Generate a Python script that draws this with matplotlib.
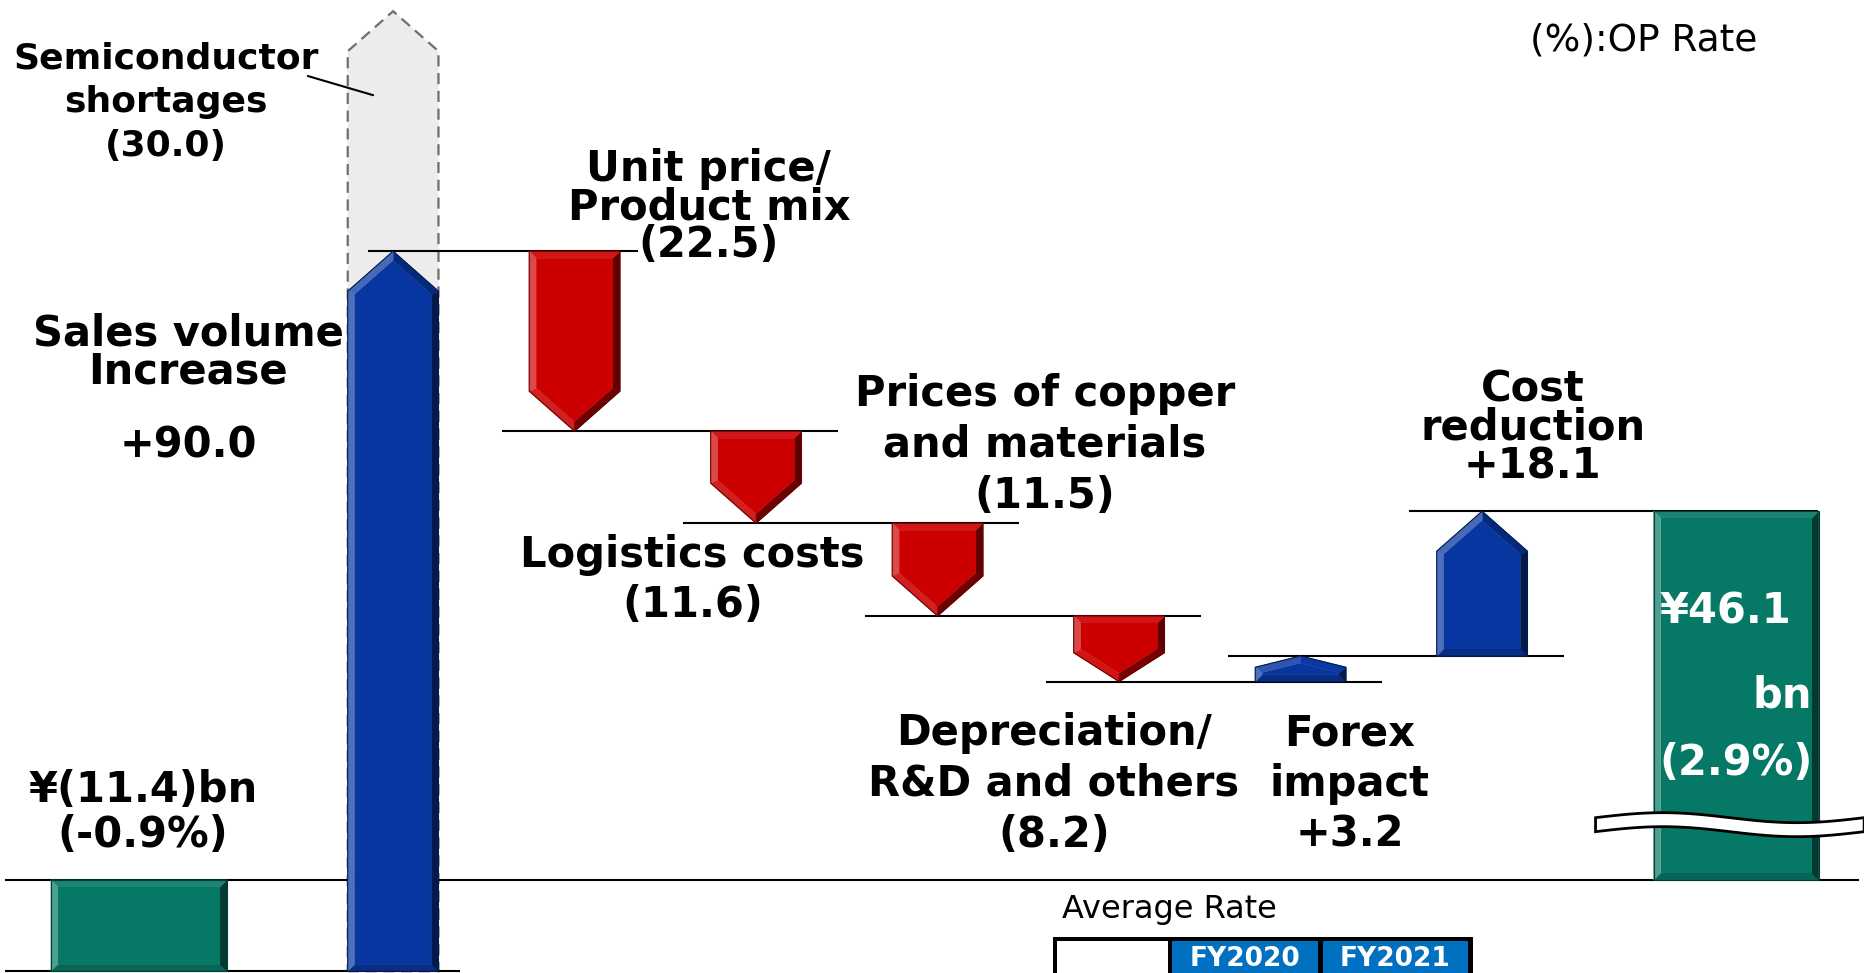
import matplotlib
matplotlib.use("Agg")
import matplotlib.pyplot as plt
import numpy as np
from matplotlib.patches import Polygon, Rectangle
from matplotlib.colors import to_rgb

# ---- data (bn yen) ----
start_value = -11.4
start_rate = -0.9
step_names = ["Sales volume\nIncrease", "Unit price/\nProduct mix",
              "Prices of copper\nand materials", "Logistics costs",
              "Depreciation/\nR&D and others", "Forex\nimpact",
              "Cost\nreduction"]
step_values = [90.0, -22.5, -11.5, -11.6, -8.2, 3.2, 18.1]
shortage_name = "Semiconductor\nshortages"
shortage_value = -30.0
end_value = 46.1
end_rate = 2.9
rate_headers = ["FY2020", "FY2021"]

# ---- layout ----
W, H = 1865, 973
SX, SY = 181.5, 8.0          # px per category step / px per bn yen
X0, Y0 = 139, 880            # pixel of first category centre / zero line
BLUE, RED, GREEN = "#0836a0", "#cc0000", "#067866"
HEAD = 5.0                   # arrow head length (bn yen)

label_dx = [-1.13, 0.74, 1.59, -1.35, -0.36, 0.27, 0.28]
label_y = [65.9, 84.1, 54.4, 37.5, 12.0, 12.0, 56.5]
label_ls = [0.88, 0.88, 1.27, 1.27, 1.27, 1.27, 0.88]
FONT = dict(fontsize=30, fontweight="bold", family="DejaVu Sans")


def fmt(v):
    return f"+{v:.1f}" if v > 0 else f"({-v:.1f})"


def mix(c, other, f):
    c = np.array(to_rgb(c))
    return tuple(c + (np.array(other) - c) * f)


def bevel(ax, pts, color, b=7, z=3):
    """Draw a convex polygon with a bevelled edge (like the slide shapes)."""
    P = np.array(pts, dtype=float) * [SX, SY]
    area = 0.5 * np.sum(P[:, 0] * np.roll(P[:, 1], -1)
                        - np.roll(P[:, 0], -1) * P[:, 1])
    if area < 0:
        P = P[::-1]
    n = len(P)
    lines = []
    for i in range(n):
        a, c = P[i], P[(i + 1) % n]
        d = (c - a) / np.linalg.norm(c - a)
        lines.append((a + np.array([-d[1], d[0]]) * b, d))
    Q = []
    for i in range(n):
        p1, d1 = lines[i - 1]
        p2, d2 = lines[i]
        t, _ = np.linalg.solve(np.array([d1, -d2]).T, p2 - p1)
        Q.append(p1 + t * d1)
    Q = np.array(Q)
    light = np.array([-1.0, 0.3]) / np.hypot(1.0, 0.3)
    for i in range(n):
        j = (i + 1) % n
        d = lines[i][1]
        shade = np.dot(np.array([d[1], -d[0]]), light)
        col = mix(color, (1, 1, 1), 0.3 * shade) if shade > 0 \
            else mix(color, (0, 0, 0), 0.55 * -shade)
        quad = np.array([P[i], P[j], Q[j], Q[i]]) / [SX, SY]
        ax.add_patch(Polygon(quad, closed=True, facecolor=col,
                             edgecolor=col, lw=0.5, zorder=z))
    ax.add_patch(Polygon(Q / [SX, SY], closed=True, facecolor=color,
                         edgecolor="none", zorder=z + 0.1))
    ax.add_patch(Polygon(P / [SX, SY], closed=True, facecolor="none",
                         edgecolor=mix(color, (0, 0, 0), 0.5), lw=0.8,
                         zorder=z + 0.2))


def arrow_pts(x, y0, y1, w, head=HEAD):
    head = min(head, 0.44 * abs(y1 - y0))
    sh = y1 - np.sign(y1 - y0) * head
    return [(x - w / 2, y0), (x + w / 2, y0), (x + w / 2, sh), (x, y1),
            (x - w / 2, sh)]


def main():
    fig = plt.figure(figsize=(W / 100, H / 100), dpi=100)
    ax = fig.add_axes([0, 0, 1, 1])
    ax.set_xlim(-X0 / SX, (W - X0) / SX)
    ax.set_ylim(-(H - Y0) / SY, Y0 / SY)
    ax.axis("off")

    n = len(step_values)
    xs = np.arange(n + 2) + np.array([0] + [0.4] * n + [0.8])
    x_start, x_steps, x_end = xs[0], xs[1:-1], xs[-1]
    levels = start_value + np.concatenate([[0], np.cumsum(step_values)])

    # start / end bars
    bevel(ax, [(x_start - 0.485, start_value), (x_start + 0.485, start_value),
               (x_start + 0.485, 0), (x_start - 0.485, 0)], GREEN)
    bevel(ax, [(x_end - 0.455, 0), (x_end + 0.455, 0),
               (x_end + 0.455, end_value), (x_end - 0.455, end_value)], GREEN)

    # ghost of the sales volume bar (semiconductor shortages)
    ghost_top = levels[1] - shortage_value
    ax.add_patch(Polygon(arrow_pts(x_steps[0], levels[0], ghost_top, 0.5),
                         closed=True, facecolor="#ececec", edgecolor="#6e6e6e",
                         lw=1.6, ls=(0, (5, 3)), zorder=1))

    # waterfall arrows
    for i, v in enumerate(step_values):
        color = BLUE if v > 0 else RED
        bevel(ax, arrow_pts(x_steps[i], levels[i], levels[i + 1], 0.5), color)

    # connector lines
    ax.axhline(0, xmin=0.003, xmax=0.996, color="black", lw=1.5, zorder=2)
    ax.hlines(start_value, ax.get_xlim()[0] + 0.03, x_steps[0] + 0.37,
              color="black", lw=1.5, zorder=2)
    for i in range(n):
        x_next = x_steps[i + 1] if i + 1 < n else x_end
        left = -0.14 if i == 0 else -0.4
        right = 0.35 if i == 0 else 0.45
        ax.hlines(levels[i + 1], x_steps[i] + left, x_next + right,
                  color="black", lw=1.5, zorder=2)

    # break mark on the end bar
    t = np.linspace(0, 1, 80)
    bx = np.linspace(x_end - 0.455 - 0.32, x_end + 0.455 + 0.25, 80)
    yc = 0.15 * end_value + (5 / SY) * np.sin(2 * np.pi * t)
    ht = 7 / SY
    brk = np.concatenate([np.column_stack([bx, yc + ht]),
                          np.column_stack([bx[::-1], (yc - ht)[::-1]])])
    ax.add_patch(Polygon(brk, closed=True, facecolor="white",
                         edgecolor="black", lw=2, zorder=5))

    # labels
    for i, name in enumerate(step_names):
        txt = name if i == 0 else name + "\n" + fmt(step_values[i])
        ax.text(x_steps[i] + label_dx[i], label_y[i], txt, ha="center",
                va="center", linespacing=label_ls[i], zorder=6, **FONT)
    ax.text(x_steps[0] + label_dx[0], 54.25, fmt(step_values[0]),
            ha="center", va="center", zorder=6, **FONT)

    ax.text(x_steps[0] - 1.25, 97.2,
            shortage_name + "\n" + fmt(shortage_value), ha="center",
            va="center", linespacing=1.35, fontsize=26, fontweight="bold",
            zorder=6)
    ax.annotate("", xy=(x_steps[0] - 0.11, ghost_top - 0.35 * -shortage_value),
                xytext=(x_steps[0] - 0.47, 100.5),
                arrowprops=dict(arrowstyle="-", lw=1.5, color="black",
                                shrinkA=0, shrinkB=0), zorder=6)

    ax.text(x_start + 0.02, 8.4,
            f"¥{fmt(start_value)}bn\n({start_rate:.1f}%)", ha="center",
            va="center", linespacing=1.1, zorder=6, **FONT)
    ax.text(x_end - 0.06, 33.5, f"¥{end_value:.1f}", color="white",
            ha="center", va="center", zorder=6, **FONT)
    ax.text(x_end + 0.42, 23.1, "bn", color="white", ha="right",
            va="center", zorder=6, **FONT)
    ax.text(x_end, 14.6, f"({end_rate:.1f}%)", color="white", ha="center",
            va="center", zorder=6, **FONT)

    # notes and the (cut-off) exchange rate table
    fig.text(1644 / W, 1 - 40 / H, "(%):OP Rate", fontsize=27, ha="center",
             va="center")
    fig.text(1062 / W, 1 - 918 / H, "Average Rate", fontsize=23, ha="left",
             va="baseline")

    def rect(x0, x1, y0, color):
        fig.patches.append(Rectangle((x0 / W, 1 - 990 / H), (x1 - x0) / W,
                                     (990 - y0) / H, transform=fig.transFigure,
                                     facecolor=color, edgecolor="none"))

    rect(1053, 1473, 937, "black")
    rect(1057, 1168, 941, "white")
    cells = [(1172, 1318), (1323, 1468)]
    for (c0, c1), hdr in zip(cells, rate_headers):
        rect(c0, c1, 941, "#0070c0")
        fig.text((c0 + c1) / 2 / W, 1 - 966 / H, hdr, color="white",
                 fontsize=19, fontweight="bold", ha="center", va="baseline")

    fig.savefig("out.png", dpi=100)


if __name__ == "__main__":
    main()
